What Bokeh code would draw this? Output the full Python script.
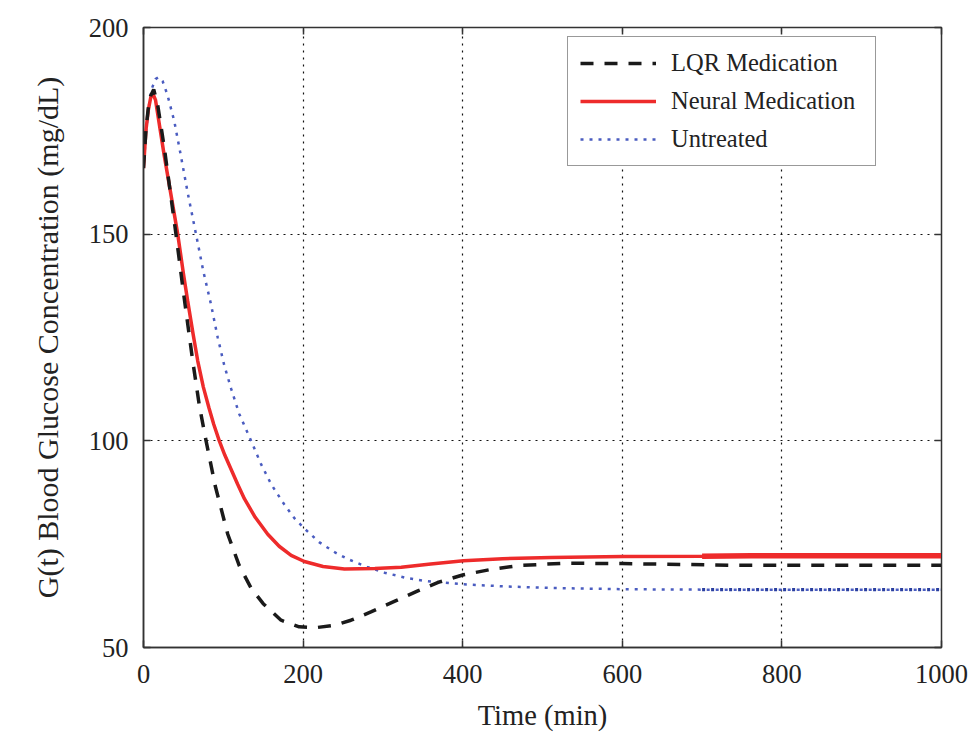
from bokeh.plotting import figure
from bokeh.models import Range1d, FixedTicker, LinearAxis, Legend, LegendItem
from bokeh.embed import file_html
from bokeh.resources import INLINE

# ---- data ----
t_lqr = [0, 3, 6, 9, 12.8, 18, 26, 40.7, 50, 61.7, 70, 78.4, 90, 105.6, 120, 135, 150, 172.4, 195, 216,
         240, 260, 285, 315, 343.8, 370, 401, 435.7, 469, 527.6, 600, 741, 1000]
g_lqr = [166, 175, 180.5, 183.5, 185, 181, 171, 150, 136, 119.3, 108.5, 100, 89, 77.4, 69.8, 64.3, 60.6, 56.6, 55, 54.8,
         55.4, 56.6, 58.6, 61.2, 63.7, 65.8, 67.6, 68.9, 69.8, 70.4, 70.3, 69.9, 69.9]

t_neural = [0, 3, 6, 9, 11.5, 15, 26, 42.9, 50, 55.4, 62, 68, 75, 82, 88, 95, 102, 110, 118, 126.4, 140,
            155.7, 170, 185, 201.6, 225, 251.8, 290, 323, 360, 401, 450, 511, 601, 700, 762, 1000]
g_neural = [166, 175, 180, 183, 184.1, 182.5, 169, 150, 140.5, 133.8, 126, 119.3, 113, 108, 104, 100, 96.5, 93, 89.5, 86, 81.5,
            77.4, 74.5, 72.3, 70.8, 69.6, 69, 69.1, 69.4, 70.2, 71, 71.5, 71.8, 72, 72.1, 72.2, 72.2]

t_untreated = [0, 3, 6, 10, 15, 19, 24, 30, 38.6, 47, 55.4, 65.8, 75, 84.6, 93, 101.3, 110, 120, 134.8, 147,
               160, 175, 189, 201.6, 220, 240, 256, 280, 302, 330, 352, 401, 450, 511, 600, 700, 1000]
g_untreated = [166, 174, 180, 185, 187.5, 188, 187, 183.7, 177.3, 168.8, 160, 150, 141, 133, 125, 118.2, 112.5, 106.5, 100, 94.5,
               89.5, 85, 81.3, 78.8, 75.5, 73, 71.4, 69.5, 68.1, 66.8, 66.1, 65.3, 64.8, 64.4, 64.1, 64, 64]

x_ticks = [0, 200, 400, 600, 800, 1000]
y_ticks = [50, 100, 150, 200]
series_names = ["LQR Medication", "Neural Medication", "Untreated"]

FONT = "Liberation Serif"
TXT = "#222222"
AX = "#333333"

p = figure(width=965, height=736, output_backend="svg", toolbar_location=None,
           x_range=Range1d(0, 1000), y_range=Range1d(50, 200),
           min_border_left=138, min_border_right=29, min_border_top=22, min_border_bottom=94,
           x_axis_label="Time (min)",
           y_axis_label="G(t) Blood Glucose Concentration (mg/dL)")
p.margin = (5, 0, 0, 5)
p.background_fill_color = "white"
p.border_fill_color = "white"
p.outline_line_color = AX
p.outline_line_width = 1.5

for ax in (p.xaxis[0], p.yaxis[0]):
    ax.major_label_text_font = FONT
    ax.major_label_text_font_size = "26.5px"
    ax.major_label_text_color = TXT
    ax.axis_label_text_font = FONT
    ax.axis_label_text_font_size = "28.5px"
    ax.axis_label_text_font_style = "normal"
    ax.axis_label_text_color = TXT
    ax.axis_line_color = AX
    ax.axis_line_width = 1.5
    ax.major_tick_in = 7
    ax.major_tick_out = 0
    ax.major_tick_line_color = AX
    ax.major_tick_line_width = 1.5
    ax.minor_tick_line_color = None

p.yaxis[0].axis_label_text_font_size = "30px"
p.xaxis[0].ticker = FixedTicker(ticks=x_ticks)
p.yaxis[0].ticker = FixedTicker(ticks=y_ticks)
p.xaxis[0].major_label_standoff = 17
p.yaxis[0].major_label_standoff = 15
p.xaxis[0].axis_label_standoff = 14
p.yaxis[0].axis_label_standoff = 22

# top and right axes (ticks only, no labels)
top = LinearAxis(ticker=FixedTicker(ticks=x_ticks),
                 major_label_overrides={t: "" for t in x_ticks},
                 major_tick_in=7, major_tick_out=0, minor_tick_line_color=None,
                 axis_line_color=AX, major_tick_line_color=AX, major_tick_line_width=1.5)
right = LinearAxis(ticker=FixedTicker(ticks=y_ticks),
                   major_label_overrides={t: "" for t in y_ticks},
                   major_tick_in=7, major_tick_out=0, minor_tick_line_color=None,
                   axis_line_color=AX, major_tick_line_color=AX, major_tick_line_width=1.5)
p.add_layout(top, "above")
p.add_layout(right, "right")

for g in (p.xgrid[0], p.ygrid[0]):
    g.grid_line_color = "#111111"
    g.grid_line_dash = "2 5"
    g.grid_line_width = 1.2
p.xgrid[0].ticker = FixedTicker(ticks=x_ticks)
p.ygrid[0].ticker = FixedTicker(ticks=y_ticks)

r_un = p.line(t_untreated, g_untreated, line_color="#4a5cc0", line_width=2.5, line_dash="3 6")
r_nn = p.line(t_neural, g_neural, line_color="#ee2b2b", line_width=3.5)
r_lqr = p.line(t_lqr, g_lqr, line_color="#1a1a1a", line_width=3.5, line_dash="13 11")

# the heavier tail segment visible in the reference (t >= 700)
k_nn = t_neural.index(700)
k_un = t_untreated.index(700)
p.line(t_neural[k_nn:], g_neural[k_nn:], line_color="#ee2b2b", line_width=5.5)
p.line(t_untreated[k_un:], g_untreated[k_un:], line_color="#2a3fa0", line_width=3.2, line_dash="3 6")

legend = Legend(items=[LegendItem(label=series_names[0], renderers=[r_lqr]),
                       LegendItem(label=series_names[1], renderers=[r_nn]),
                       LegendItem(label=series_names[2], renderers=[r_un])],
                location=(424, 481))
legend.label_text_font = FONT
legend.label_text_font_size = "24.5px"
legend.label_text_color = TXT
legend.glyph_width = 76
legend.glyph_height = 22
legend.label_height = 22
legend.label_width = 192
legend.label_standoff = 15
legend.padding = 12
legend.spacing = 10
legend.border_line_color = AX
legend.border_line_width = 1.5
legend.background_fill_alpha = 1
legend.margin = 0
p.add_layout(legend, "center")

html = file_html(p, INLINE)
html = html.replace("<body>", '<body style="margin:0;background-color:#fffbe3;">', 1)
open("out.html", "w").write(html)
